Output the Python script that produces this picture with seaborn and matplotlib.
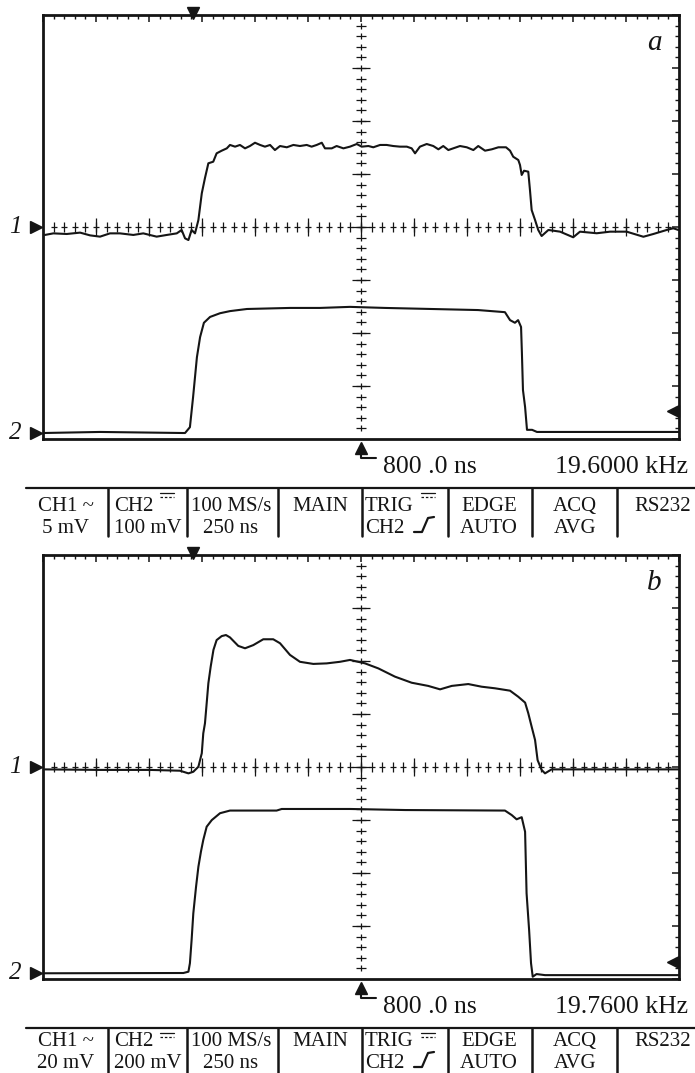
import numpy as np
import pandas as pd
import seaborn as sns
import matplotlib.pyplot as plt
import matplotlib.transforms as mtransforms
from matplotlib.lines import Line2D
from matplotlib.ticker import MultipleLocator

# --- данные осциллограмм (время в нс, напряжение в мВ) ---
# панель a, канал 1 (5 мВ/дел)
t1a = [9, 49, 112, 175, 222, 269, 316, 363, 426, 473, 536, 584, 631, 654, 670, 686, 701, 717,
       733, 741, 749, 764, 780, 803, 819, 843, 867, 882,
       906, 929, 953, 976, 1000, 1024, 1047, 1071, 1094, 1118,
       1150, 1181, 1212, 1244, 1267, 1291, 1315, 1330, 1362, 1385,
       1417, 1448, 1480, 1503, 1535, 1558, 1590, 1621, 1652, 1684,
       1716, 1739, 1755, 1778, 1810, 1841, 1865, 1888, 1912, 1935,
       1967, 1999, 2030, 2053, 2085, 2117, 2148, 2184, 2203, 2218,
       2242, 2250, 2258, 2269, 2289, 2297, 2305, 2321, 2336, 2352,
       2384, 2439, 2501, 2533, 2612, 2675, 2753, 2832, 2879, 2942, 2973, 2997]
v1a = [-0.75, -0.60, -0.66, -0.53, -0.79, -0.91, -0.60, -0.60, -0.75, -0.60, -0.91, -0.75, -0.60, -0.28, -1.07, -1.23, -0.28, -0.60,
       0.66, 1.92, 3.18, 4.62, 6.01, 6.16, 6.95, 7.20, 7.42, 7.74,
       7.58, 7.74, 7.42, 7.64, 7.95, 7.74, 7.58, 7.74, 7.26, 7.64,
       7.52, 7.74, 7.64, 7.74, 7.58, 7.74, 7.95, 7.42, 7.42, 7.64,
       7.42, 7.58, 7.83, 7.58, 7.64, 7.52, 7.74, 7.74, 7.64, 7.58,
       7.58, 7.42, 6.95, 7.58, 7.83, 7.64, 7.33, 7.64, 7.26, 7.42,
       7.64, 7.52, 7.26, 7.64, 7.20, 7.33, 7.52, 7.52, 7.20, 6.63,
       6.32, 5.85, 4.91, 5.31, 5.22, 3.49, 1.60, 0.66, -0.28, -0.85,
       -0.28, -0.44, -0.97, -0.44, -0.59, -0.44, -0.44, -0.92, -0.66, -0.28, -0.12, -0.28]
# панель a, канал 2 (100 мВ/дел)
t2a = [0, 269, 660, 670, 693, 708, 726, 741, 759, 788, 835, 882, 962, 1165, 1307, 1448, 1613, 2052, 2179, 2203,
       2226, 2241, 2255, 2259, 2264, 2274, 2283, 2307, 2330, 2368, 3000]
v2a = [0, 2, 0, 0, 11, 68, 143, 181, 208, 219, 226, 230, 234, 236, 236, 238, 236, 232, 228, 213,
       208, 213, 200, 151, 81, 49, 6, 6, 2, 2, 2]
# панель b, канал 1 (20 мВ/дел)
t1b = [9, 269, 505, 646, 686, 709, 733, 749, 756, 764, 772, 780, 791, 804, 819, 843, 863, 882, 921, 953,
       992, 1039, 1086, 1118, 1165, 1212, 1275, 1338, 1401, 1448, 1487, 1519, 1582, 1660, 1739, 1817, 1873, 1928, 2006, 2069,
       2132, 2203, 2242, 2274, 2289, 2305, 2321, 2333, 2352, 2368, 2399, 2997]
v1b = [-0.9, -1.1, -1.1, -1.4, -2.4, -1.8, 0.1, 5.2, 12.7, 16.5, 24.0, 31.6, 37.9, 44.2, 47.9, 49.4, 49.8, 48.9, 45.7, 44.8,
       46.0, 48.2, 48.2, 46.7, 42.3, 39.7, 38.9, 39.1, 39.7, 40.4, 39.7, 39.1, 37.2, 34.1, 31.8, 30.6, 29.3, 30.6, 31.3, 30.3,
       29.7, 28.8, 26.5, 24.3, 20.3, 15.2, 10.2, 2.6, -1.1, -2.4, -0.9, -0.9]
# панель b, канал 2 (200 мВ/дел)
t2b = [9, 662, 686, 693, 701, 709, 722, 733, 745, 756, 772, 796, 835, 882, 1102, 1126, 1448, 1708, 2179, 2211,
       2234, 2258, 2274, 2281, 2293, 2302, 2310, 2328, 2368, 2997]
v2b = [-1, 0, 5, 37, 125, 225, 326, 401, 458, 502, 552, 577, 603, 613, 613, 619, 619, 615, 613, 596,
       580, 588, 533, 301, 162, 37, -14, -4, -8, -8]

scale_a = [5, 100]
scale_b = [20, 200]
freq_labels = ['19.6000 kHz', '19.7600 kHz']
ch1_labels = ['5 mV', '20 mV']
ch2_labels = ['100 mV', '200 mV']
letters = ['a', 'b']
trig_levels = [0.53, 0.32]   # уровень запуска в делениях
ch2_ground = 0.113           # положение земли канала 2 (дел.)

W, H = 695, 1073


def fx(x):
    return x / W


def fy(y):
    return 1 - y / H


sns.set_style('white')
plt.rcParams['font.family'] = ['Liberation Serif', 'DejaVu Serif']

fig = plt.figure(figsize=(W / 100, H / 100), dpi=100)
ink = '#151515'


def draw_panel(off, t1, v1, t2, v2, sc, letter, trig, freq, lab1, lab2, bar_end, row1, row2):
    ax = fig.add_axes([fx(43), fy(439 + off), 636 / W, 424 / H])
    df1 = pd.DataFrame({'t': t1, 'div': np.array(v1) / sc[0] + 4})
    df2 = pd.DataFrame({'t': t2, 'div': np.array(v2) / sc[1] + ch2_ground})
    sns.lineplot(data=df1, x='t', y='div', ax=ax, color=ink, lw=1.5, estimator=None, sort=False)
    sns.lineplot(data=df2, x='t', y='div', ax=ax, color=ink, lw=1.5, estimator=None, sort=False)
    ax.set_xlim(0, 3000)
    ax.set_ylim(0, 8)
    ax.set_xlabel('')
    ax.set_ylabel('')
    ax.xaxis.set_major_locator(MultipleLocator(250))
    ax.xaxis.set_minor_locator(MultipleLocator(50))
    ax.yaxis.set_major_locator(MultipleLocator(1))
    ax.yaxis.set_minor_locator(MultipleLocator(0.2))
    ax.tick_params(which='both', direction='in', top=True, right=True,
                   labelbottom=False, labelleft=False, color=ink)
    ax.tick_params(which='major', length=5, width=1.1)
    ax.tick_params(which='minor', length=3, width=1)
    for sp in ax.spines.values():
        sp.set_linewidth(2)
        sp.set_color(ink)

    # центральные оси: только крестики-риски
    xm = np.arange(50, 3000, 50)
    xM = np.arange(250, 3000, 250)
    ax.plot(xm, np.full(len(xm), 4.0), ls='none', marker='|', ms=7, mew=0.9, color=ink)
    ax.plot(xm, np.full(len(xm), 4.0), ls='none', marker='_', ms=4, mew=0.9, color=ink)
    ax.plot(xM, np.full(len(xM), 4.0), ls='none', marker='|', ms=13, mew=0.9, color=ink)
    ym = np.arange(1, 40) * 0.2
    yM = np.arange(1, 8) * 1.0
    ax.plot(np.full(len(ym), 1500), ym, ls='none', marker='_', ms=7, mew=0.9, color=ink)
    ax.plot(np.full(len(ym), 1500), ym, ls='none', marker='|', ms=4, mew=0.9, color=ink)
    ax.plot(np.full(len(yM), 1500), yM, ls='none', marker='_', ms=13, mew=0.9, color=ink)

    ty = mtransforms.blended_transform_factory(ax.transAxes, ax.transData)
    tx = mtransforms.blended_transform_factory(ax.transData, ax.transAxes)
    for lvl, name in [(4, '1'), (ch2_ground, '2')]:
        ax.plot([-0.011], [lvl], marker='>', ms=9, color=ink, transform=ty, clip_on=False)
        ax.text(-0.044, lvl, name, transform=ty, ha='center', va='center',
                fontsize=18, style='italic', color=ink)
    ax.plot([0.99], [trig], marker='<', ms=9, color=ink, transform=ty, clip_on=False)
    ax.plot([708], [1.004], marker='v', ms=9, color=ink, transform=tx, clip_on=False)
    ax.plot([1500], [-0.021], marker='^', ms=9, color=ink, transform=tx, clip_on=False)
    ax.plot([1500, 1500, 1571], [-0.03, -0.045, -0.045], lw=1.5, color=ink, transform=tx, clip_on=False)
    ax.text(0.961, 0.917, letter, transform=ax.transAxes, ha='center', va='baseline',
            fontsize=21, style='italic', color=ink)

    fig.text(fx(383), fy(473 + off), '800 .0 ns', fontsize=18.5, va='baseline', color=ink)
    fig.text(fx(688), fy(473 + off), freq, fontsize=18.5, va='baseline', ha='right', color=ink)

    # строка состояния
    fig.add_artist(Line2D([fx(26), 1], [fy(488 + off)] * 2, lw=1.6, color=ink, transform=fig.transFigure))
    for xs in [108, 187, 278, 362, 448, 532, 617]:
        fig.add_artist(Line2D([fx(xs)] * 2, [fy(488 + off), fy(bar_end)], lw=1.8, color=ink,
                              transform=fig.transFigure))
    r1, r2 = fy(row1), fy(row2)
    fs = 15
    fig.text(fx(66), r1, 'CH1 ~', ha='center', va='baseline', fontsize=fs, color=ink)
    fig.text(fx(66), r2, lab1, ha='center', va='baseline', fontsize=fs, color=ink)
    fig.text(fx(114), r1, 'CH2', ha='left', va='baseline', fontsize=fs, color=ink)
    fig.text(fx(114), r2, lab2, ha='left', va='baseline', fontsize=fs, color=ink)
    fig.text(fx(231), r1, '100 MS/s', ha='center', va='baseline', fontsize=fs, color=ink)
    fig.text(fx(231), r2, '250 ns', ha='center', va='baseline', fontsize=fs, color=ink)
    fig.text(fx(320), r1, 'MAIN', ha='center', va='baseline', fontsize=fs, color=ink)
    fig.text(fx(365), r1, 'TRIG', ha='left', va='baseline', fontsize=fs, color=ink)
    fig.text(fx(365), r2, 'CH2', ha='left', va='baseline', fontsize=fs, color=ink)
    fig.text(fx(489), r1, 'EDGE', ha='center', va='baseline', fontsize=fs, color=ink)
    fig.text(fx(489), r2, 'AUTO', ha='center', va='baseline', fontsize=fs, color=ink)
    fig.text(fx(575), r1, 'ACQ', ha='center', va='baseline', fontsize=fs, color=ink)
    fig.text(fx(575), r2, 'AVG', ha='center', va='baseline', fontsize=fs, color=ink)
    fig.text(fx(663), r1, 'RS232', ha='center', va='baseline', fontsize=fs, color=ink)

    # значки постоянного тока и фронта
    ys = max(row1 - 19, 488 + off + 5)
    for x0 in [160, 421]:
        fig.add_artist(Line2D([fx(x0), fx(x0 + 14)], [fy(ys)] * 2, lw=0.9, color=ink,
                              transform=fig.transFigure))
        fig.add_artist(Line2D([fx(x0), fx(x0 + 14)], [fy(ys + 4)] * 2, lw=0.9, color=ink,
                              ls=(0, (2, 1.5)), transform=fig.transFigure))
    fig.add_artist(Line2D([fx(414), fx(422), fx(428), fx(434)],
                          [fy(row2 - 1), fy(row2 - 1), fy(row2 - 15), fy(row2 - 16)],
                          lw=1.6, color=ink, transform=fig.transFigure))
    return ax


draw_panel(0, t1a, v1a, t2a, v2a, scale_a, letters[0], trig_levels[0], freq_labels[0],
           ch1_labels[0], ch2_labels[0], 536, 511, 533)
draw_panel(540, t1b, v1b, t2b, v2b, scale_b, letters[1], trig_levels[1], freq_labels[1],
           ch1_labels[1], ch2_labels[1], 1073, 1046, 1068)

plt.savefig('out.png', dpi=100)
